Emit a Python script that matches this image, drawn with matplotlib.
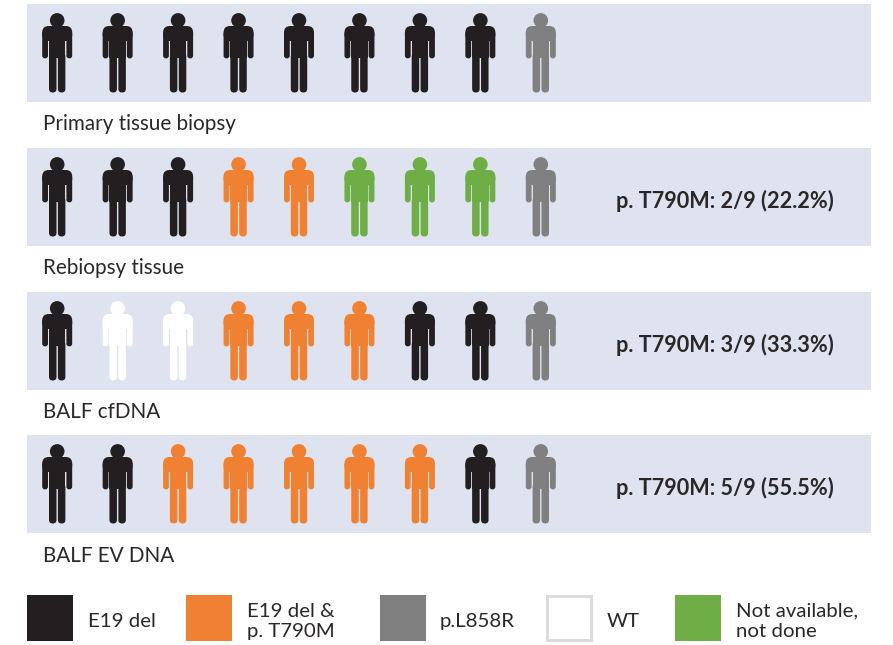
import matplotlib
matplotlib.use("Agg")
import matplotlib.pyplot as plt
from matplotlib.patches import Circle, FancyBboxPatch, Rectangle

plt.rcParams['font.family'] = ['Lato', 'DejaVu Sans']

# Status of each of the 9 patients per sample type
row_names = ["Primary tissue biopsy", "Rebiopsy tissue", "BALF cfDNA", "BALF EV DNA"]
row_status = [
    ["E19", "E19", "E19", "E19", "E19", "E19", "E19", "E19", "L858R"],
    ["E19", "E19", "E19", "T790M", "T790M", "NA", "NA", "NA", "L858R"],
    ["E19", "WT", "WT", "T790M", "T790M", "T790M", "E19", "E19", "L858R"],
    ["E19", "E19", "T790M", "T790M", "T790M", "T790M", "T790M", "E19", "L858R"],
]
row_notes = ["", "p. T790M: 2/9 (22.2%)", "p. T790M: 3/9 (33.3%)", "p. T790M: 5/9 (55.5%)"]

colors = {"E19": "#231f20", "T790M": "#f08132", "L858R": "#808080", "WT": "#ffffff", "NA": "#6fad47"}
legend_keys = ["E19", "T790M", "L858R", "WT", "NA"]
legend_labels = ["E19 del", "E19 del &\np. T790M", "p.L858R", "WT", "Not available,\nnot done"]
legend_x = [27, 186, 380, 546, 675]
legend_text_x = [88, 247, 440, 607, 736]

panel_color = "#dfe3f0"
text_color = "#2b2728"


def rbox(ax, x0, y0, x1, y1, r, color):
    ax.add_patch(FancyBboxPatch((x0 + r, y0 + r), x1 - x0 - 2 * r, y1 - y0 - 2 * r,
                                boxstyle="round,pad=%f,rounding_size=%f" % (r, r),
                                fc=color, ec="none"))


def draw_person(ax, cx, top, color):
    ax.add_patch(Circle((cx, top + 7.4), 7.3, fc=color, ec="none"))
    rbox(ax, cx - 15, top + 13, cx + 15, top + 28, 6.5, color)       # shoulders
    rbox(ax, cx - 15, top + 18, cx - 9.2, top + 45.4, 2.8, color)    # arms
    rbox(ax, cx + 9.2, top + 18, cx + 15, top + 45.4, 2.8, color)
    ax.add_patch(Rectangle((cx - 8.2, top + 18), 16.4, 26.5, fc=color, ec="none"))  # torso
    rbox(ax, cx - 8.2, top + 40, cx - 0.7, top + 79.5, 3.7, color)   # legs
    rbox(ax, cx + 0.7, top + 40, cx + 8.2, top + 79.5, 3.7, color)


fig = plt.figure(figsize=(8.93, 6.45), dpi=100)
ax = fig.add_axes([0, 0, 1, 1])
ax.set_xlim(0, 893)
ax.set_ylim(645, 0)
ax.axis("off")

panel_tops = [4, 148, 292, 435]
for top, name, status, note in zip(panel_tops, row_names, row_status, row_notes):
    ax.add_patch(Rectangle((27, top), 844, 98, fc=panel_color, ec="none"))
    for i, s in enumerate(status):
        draw_person(ax, 57.2 + i * 60.45, top + 9, colors[s])
    ax.text(43, top + 120.5, name, fontsize=14.9, color=text_color, va="center")
    if note:
        ax.text(616, top + 52.8, note, fontsize=15.6, fontweight="bold", color=text_color, va="center")

# Legend
for x, tx, key, label in zip(legend_x, legend_text_x, legend_keys, legend_labels):
    if key == "WT":
        ax.add_patch(Rectangle((x + 1, 596), 44, 44, fc="white", ec="#dcdcdc", lw=2.2))
    else:
        ax.add_patch(Rectangle((x, 595), 46, 46, fc=colors[key], ec="none"))
    ax.text(tx, 621.5, label, fontsize=14.7, color=text_color, va="center", linespacing=1.25)

fig.savefig("out.png", dpi=100)
